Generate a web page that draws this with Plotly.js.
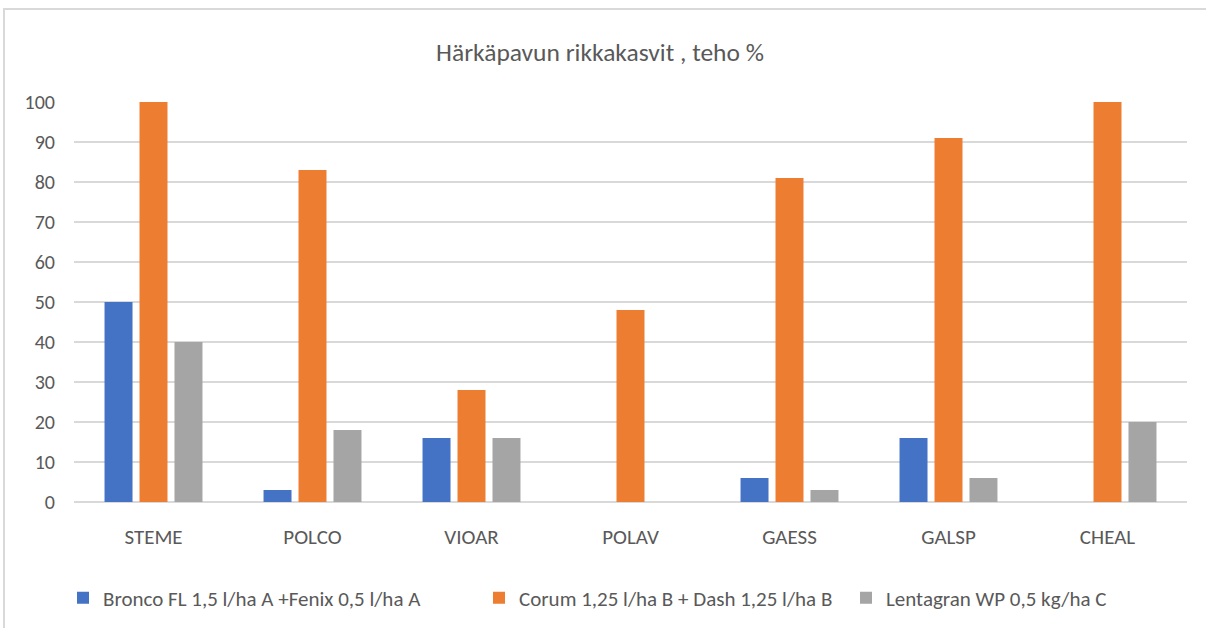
<!DOCTYPE html>
<html>
<head>
<meta charset="utf-8">
<script src="https://cdn.plot.ly/plotly-3.0.1.min.js"></script>
<style>
  html, body { margin: 0; padding: 0; background: #ffffff; overflow: hidden; }
  #frame { position: absolute; left: 3px; top: 8px; width: 1220px; height: 640px;
           border-top: 2px solid #d9d9d9; border-left: 2px solid #d9d9d9; box-sizing: border-box; }
  #chart { position: absolute; left: 0; top: 0; width: 1206px; height: 628px; }
</style>
</head>
<body>
<div id="frame"></div>
<div id="chart"></div>
<script>
const categories = ["STEME", "POLCO", "VIOAR", "POLAV", "GAESS", "GALSP", "CHEAL"];
const seriesNames = [
  "Bronco FL 1,5 l/ha A +Fenix 0,5 l/ha A",
  "Corum 1,25 l/ha B + Dash 1,25 l/ha B",
  "Lentagran WP 0,5 kg/ha C"
];
const bronco = [50, 3, 16, 0, 6, 16, 0];
const corum = [100, 83, 28, 48, 81, 91, 100];
const lentagran = [40, 18, 16, 0, 3, 6, 20];
const yTicks = [0, 10, 20, 30, 40, 50, 60, 70, 80, 90, 100];
const titleText = "Härkäpavun rikkakasvit , teho %";

const FONT = "Carlito, 'Liberation Sans Narrow', 'Open Sans', sans-serif";
const colors = ["#4472C4", "#ED7D31", "#A5A5A5"];
const values = [bronco, corum, lentagran];
const legendIds = ["legend", "legend2", "legend3"];
const legendLeftPx = [63, 479, 846];

const traces = values.map((v, i) => ({
  type: "bar",
  name: seriesNames[i],
  x: categories,
  y: v,
  legend: legendIds[i],
  marker: { color: colors[i], line: { width: 0 } },
  hoverinfo: "x+y+name"
}));

const W = 1206, H = 628;
function legendAt(px) {
  return {
    orientation: "h",
    xref: "container", yref: "container",
    x: px / W, xanchor: "left",
    y: 1 - 598 / H, yanchor: "middle",
    font: { family: FONT, size: 21, color: "#595959" },
    itemwidth: 30,
    bgcolor: "rgba(0,0,0,0)"
  };
}

const layout = {
  width: W,
  height: H,
  paper_bgcolor: "rgba(0,0,0,0)",
  plot_bgcolor: "rgba(0,0,0,0)",
  margin: { l: 74, r: 19, t: 102, b: 126 },
  font: { family: FONT, color: "#595959", size: 20 },
  title: {
    text: titleText,
    font: { family: FONT, size: 25.5, color: "#595959" },
    x: 0.4975, xref: "container", xanchor: "center",
    y: 1 - 52 / H, yref: "container", yanchor: "middle"
  },
  barmode: "group",
  bargap: 0.34,
  bargroupgap: 0.2,
  xaxis: {
    type: "category",
    tickfont: { family: FONT, size: 21, color: "#595959" },
    showgrid: false,
    showline: false,
    ticks: "",
    ticklabelstandoff: 20,
    zeroline: false
  },
  yaxis: {
    range: [0, 100],
    tickvals: yTicks,
    ticktext: yTicks.map(String),
    tickfont: { family: FONT, size: 20, color: "#595959" },
    showgrid: true,
    gridcolor: "#d9d9d9",
    gridwidth: 1.5,
    zeroline: true,
    zerolinecolor: "#d9d9d9",
    zerolinewidth: 1.5,
    showline: false,
    ticks: "",
    ticklabelstandoff: 18,
    fixedrange: true
  },
  legend: legendAt(legendLeftPx[0]),
  legend2: legendAt(legendLeftPx[1]),
  legend3: legendAt(legendLeftPx[2]),
  showlegend: true
};

Plotly.newPlot("chart", traces, layout, { displayModeBar: false, staticPlot: true });
</script>
</body>
</html>
